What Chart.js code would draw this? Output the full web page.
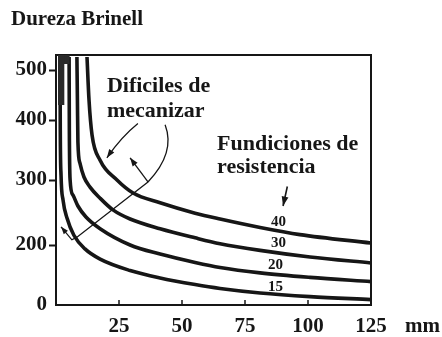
<!DOCTYPE html>
<html>
<head>
<meta charset="utf-8">
<title>Dureza Brinell</title>
<script src="https://cdn.jsdelivr.net/npm/chart.js"></script>
<style>
  html, body { margin: 0; padding: 0; background: #fff; }
  #wrap { width: 442px; height: 337px; }
</style>
</head>
<body>
<div id="wrap"><canvas id="hbChart" width="442" height="337"></canvas></div>
<script>
// espesor (mm) y dureza Brinell, una curva por resistencia
const curveNames = ['40', '30', '20', '15'];
const x40 = [12.3, 13.1, 14.3, 17.5, 24.2, 30.6, 41.3, 55.2, 65.1, 81, 96.8, 125];
const y40 = [526, 440, 375, 333, 300, 280, 265, 249, 240, 227, 216, 203];
const x30 = [8.3, 8.5, 8.7, 9.5, 11.1, 13.5, 17.5, 22.6, 29.4, 41.3, 55.2, 65.1, 81, 100.8, 125];
const y30 = [526, 440, 363, 328, 305, 289, 272, 254, 240, 225, 211, 202, 182, 160, 140];
const x20 = [5.2, 5.3, 5.6, 6.7, 8.7, 11.9, 17.5, 29.4, 41.3, 55.2, 65.1, 81, 100.8, 125];
const y20 = [526, 383, 300, 277, 260, 243, 225, 200, 170, 142, 125, 107, 92, 78];
const x15 = [1.6, 1.7, 2.0, 2.8, 4.4, 7.1, 11.5, 17.5, 29.4, 41.3, 55.2, 65.1, 81, 100.8, 125];
const y15 = [526, 383, 308, 269, 241, 215, 187, 153, 115, 90, 68, 55, 40, 28, 18];

const xTicks = [0, 25, 50, 75, 100, 125];
const yTicks = [0, 200, 300, 400, 500];

// the printed y axis is not linear: where each value sits along the axis height
const hbStops = [0, 200, 300, 400, 500, 530];
const fracStops = [0, 0.24, 0.5, 0.74, 0.94, 1];

function interp(v, from, to) {
    if (v <= from[0]) return to[0];
    for (let i = 1; i < from.length; i++) {
        if (v <= from[i]) {
            const t = (v - from[i - 1]) / (from[i] - from[i - 1]);
            return to[i - 1] + t * (to[i] - to[i - 1]);
        }
    }
    return to[to.length - 1];
}

class BrinellScale extends Chart.LinearScale {
    getPixelForValue(v) { return this.getPixelForDecimal(interp(v, hbStops, fracStops)); }
    getValueForPixel(p) { return interp(this.getDecimalForPixel(p), fracStops, hbStops); }
}
BrinellScale.id = 'brinell';
BrinellScale.defaults = Chart.LinearScale.defaults;
Chart.register(BrinellScale);

const serif = 'Liberation Serif, Times New Roman, serif';
const ink = '#161616';

const series = [[x40, y40], [x30, y30], [x20, y20], [x15, y15]];
const datasets = series.map((s, i) => ({
    label: curveNames[i],
    data: s[0].map((x, j) => ({ x: x, y: s[1][j] })),
    borderColor: ink,
    borderWidth: 3.6,
    pointRadius: 0,
    fill: false,
    cubicInterpolationMode: 'monotone'
}));

function arrowHead(ctx, from, to, size) {
    const a = Math.atan2(to[1] - from[1], to[0] - from[0]);
    ctx.beginPath();
    ctx.moveTo(to[0], to[1]);
    ctx.lineTo(to[0] - size * Math.cos(a - 0.35), to[1] - size * Math.sin(a - 0.35));
    ctx.lineTo(to[0] - size * Math.cos(a + 0.35), to[1] - size * Math.sin(a + 0.35));
    ctx.closePath();
    ctx.fill();
}

const decor = {
    id: 'decor',
    afterDraw(chart) {
        const ctx = chart.ctx;
        const xs = chart.scales.x, ys = chart.scales.y;
        const area = chart.chartArea;
        const P = (x, y) => [xs.getPixelForValue(x), ys.getPixelForValue(y)];
        ctx.save();
        ctx.strokeStyle = ink;
        ctx.fillStyle = ink;

        // top and right frame
        ctx.lineWidth = 2;
        ctx.beginPath();
        ctx.moveTo(area.left, area.top);
        ctx.lineTo(area.right, area.top);
        ctx.lineTo(area.right, area.bottom);
        ctx.stroke();

        // x ticks point inwards
        ctx.lineWidth = 1.5;
        xTicks.slice(1, -1).forEach(v => {
            const px = xs.getPixelForValue(v);
            ctx.beginPath();
            ctx.moveTo(px, area.bottom);
            ctx.lineTo(px, area.bottom - 5);
            ctx.stroke();
        });

        // dark smudge in the corner
        ctx.fillStyle = '#2a2a2a';
        let a = P(0.8, 530), b = P(5.4, 512);
        ctx.fillRect(a[0], a[1], b[0] - a[0], b[1] - a[1]);
        a = P(0.8, 530); b = P(3.3, 430);
        ctx.fillRect(a[0], a[1], b[0] - a[0], b[1] - a[1]);
        ctx.fillStyle = ink;

        // arrows of "Dificiles de mecanizar"
        ctx.lineWidth = 1.3;
        let s = P(32.5, 394), c = P(26, 372), e = P(20.2, 337);
        ctx.beginPath();
        ctx.moveTo(s[0], s[1]);
        ctx.quadraticCurveTo(c[0], c[1], e[0], e[1]);
        ctx.stroke();
        arrowHead(ctx, c, e, 9);

        s = P(43.3, 392); c = P(47.5, 345); e = P(36.5, 297);
        ctx.beginPath();
        ctx.moveTo(s[0], s[1]);
        ctx.quadraticCurveTo(c[0], c[1], e[0], e[1]);
        const d1 = P(8.3, 212), d2 = P(6.3, 208), d3 = P(2.0, 228);
        ctx.lineTo(d1[0], d1[1]);
        ctx.lineTo(d2[0], d2[1]);
        ctx.lineTo(d3[0], d3[1]);
        ctx.stroke();
        arrowHead(ctx, d2, d3, 8);

        const h = P(29.4, 337);
        ctx.beginPath();
        ctx.moveTo(e[0], e[1]);
        ctx.lineTo(h[0], h[1]);
        ctx.stroke();
        arrowHead(ctx, e, h, 9);

        // arrow of "Fundiciones de resistencia"
        ctx.lineWidth = 1.6;
        s = P(91.8, 290); e = P(90.1, 260);
        ctx.beginPath();
        ctx.moveTo(s[0], s[1]);
        ctx.lineTo(e[0], e[1]);
        ctx.stroke();
        arrowHead(ctx, s, e, 10);

        // texts
        ctx.textAlign = 'left';
        ctx.textBaseline = 'alphabetic';
        ctx.font = 'bold 22px ' + serif;
        let t = P(20.2, 456);
        ctx.fillText('Dificiles de', t[0], t[1]);
        t = P(20.2, 406);
        ctx.fillText('mecanizar', t[0], t[1]);
        t = P(63.9, 350);
        ctx.fillText('Fundiciones de', t[0], t[1]);
        t = P(63.9, 312);
        ctx.fillText('resistencia', t[0], t[1]);

        ctx.font = 'bold 21px ' + serif;
        ctx.fillText('Dureza Brinell', 11, area.top - 30);
        ctx.fillText('mm', area.right + 34, area.bottom + 27);

        // curve labels
        ctx.font = 'bold 15px ' + serif;
        ctx.textAlign = 'center';
        ctx.textBaseline = 'middle';
        const labelPos = [[88.3, 235], [88.3, 203], [87.1, 133], [87.1, 60]];
        labelPos.forEach((p, i) => {
            const q = P(p[0], p[1]);
            ctx.fillText(curveNames[i], q[0], q[1]);
        });
        ctx.restore();
    }
};

new Chart(document.getElementById('hbChart'), {
    type: 'line',
    data: { datasets: datasets },
    options: {
        responsive: false,
        animation: false,
        layout: { padding: { top: 55, right: 71, left: 0, bottom: 0 } },
        plugins: { legend: { display: false }, tooltip: { enabled: false } },
        scales: {
            x: {
                type: 'linear',
                min: 0,
                max: 125,
                afterBuildTicks: s => { s.ticks = xTicks.map(v => ({ value: v })); },
                afterFit: s => { s.height = 32; },
                grid: { display: true, drawOnChartArea: false, drawTicks: false },
                border: { display: true, color: ink, width: 2 },
                ticks: {
                    color: ink,
                    padding: 9,
                    maxRotation: 0,
                    font: { family: serif, weight: 'bold', size: 21 },
                    callback: v => (v === 0 ? '' : v)
                }
            },
            y: {
                type: 'brinell',
                min: 0,
                max: 530,
                afterBuildTicks: s => { s.ticks = yTicks.map(v => ({ value: v })); },
                afterFit: s => { s.width = 56; },
                grid: {
                    drawOnChartArea: false,
                    tickLength: 7,
                    tickWidth: 2,
                    tickColor: c => (c.tick && c.tick.value === 0 ? 'rgba(0,0,0,0)' : ink)
                },
                border: { display: true, color: ink, width: 2 },
                ticks: {
                    color: ink,
                    padding: 2,
                    font: { family: serif, weight: 'bold', size: 21 },
                    callback: v => String(v)
                }
            }
        }
    },
    plugins: [decor]
});
</script>
</body>
</html>
